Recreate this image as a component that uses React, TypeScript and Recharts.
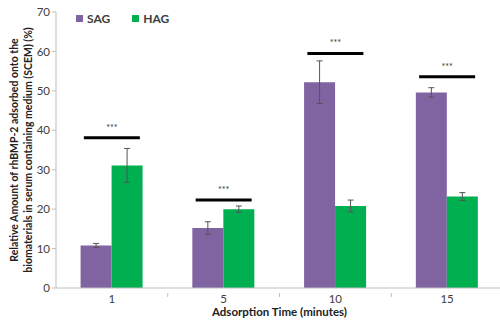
import { ComposedChart, Bar, Line, XAxis, YAxis, ErrorBar } from "recharts";

const times = ["1", "5", "10", "15"];
const sag = [10.8, 15.2, 52.2, 49.6];
const sagErr = [0.5, 1.6, 5.4, 1.2];
const hag = [31.1, 20.0, 20.8, 23.2];
const hagErr = [4.3, 0.8, 1.5, 1.0];
const sigLevel = [38.1, 22.3, 59.5, 53.6];
const yTicks = [0, 10, 20, 30, 40, 50, 60, 70];

const data = times.map((t, i) => ({
  time: t,
  sag: sag[i],
  sagErr: sagErr[i],
  hag: hag[i],
  hagErr: hagErr[i],
  sig: sigLevel[i],
}));

const FONT = "Lato, 'Open Sans', sans-serif";
const CHART_W = 503;
const CHART_H = 323;
const LEFT = 56;
const BAND = (CHART_W - LEFT) / times.length;

// significance bracket with stars
const SigMark = (props: any) => {
  const { cx, cy } = props;
  if (cx == null || cy == null) return null;
  return (
    <g>
      <line x1={cx - 28} x2={cx + 28} y1={cy} y2={cy} stroke="#000" strokeWidth={3} />
      <text x={cx} y={cy - 7} textAnchor="middle" fontSize={9} fill="#333" fontFamily={FONT}>
        ***
      </text>
    </g>
  );
};

const XTick = (props: any) => {
  const { x, y, payload, index } = props;
  return (
    <g>
      <text x={x} y={y + 7} textAnchor="middle" fontSize={11.5} fill="#404040" fontFamily={FONT}>
        {payload.value}
      </text>
      {index < times.length - 1 && (
        <line x1={x + BAND / 2} x2={x + BAND / 2} y1={y - 3} y2={y + 1} stroke="#BFBFBF" />
      )}
    </g>
  );
};

const YLabel = (props: any) => {
  const vb = props.viewBox || {};
  const cy = vb.y + vb.height / 2;
  return (
    <g fontFamily={FONT} fontSize={10.5} fontWeight="bold" fill="#222">
      <text x={14} y={cy} textAnchor="middle" dominantBaseline="central" transform={`rotate(-90, 14, ${cy})`}>
        Relative Amount of rhBMP-2 adsorbed onto the
      </text>
      <text x={28} y={cy} textAnchor="middle" dominantBaseline="central" transform={`rotate(-90, 28, ${cy})`}>
        biomaterials in  serum containing medium (SCEM) (%)
      </text>
    </g>
  );
};

const LegendBox = () => (
  <div
    style={{
      position: "absolute",
      left: 76,
      top: 11,
      display: "flex",
      gap: 22,
      fontFamily: FONT,
      fontSize: 12,
      fontWeight: "bold",
      color: "#404040",
    }}
  >
    <span style={{ display: "flex", alignItems: "center", gap: 4 }}>
      <span style={{ width: 7, height: 7, background: "#8064A2", display: "inline-block" }} />
      SAG
    </span>
    <span style={{ display: "flex", alignItems: "center", gap: 4 }}>
      <span style={{ width: 7, height: 7, background: "#00B050", display: "inline-block" }} />
      HAG
    </span>
  </div>
);

export default function App() {
  return (
    <div style={{ position: "absolute", left: 0, top: 0, width: 500, height: CHART_H, overflow: "hidden", background: "#fff" }}>
      <ComposedChart
        width={CHART_W}
        height={CHART_H}
        data={data}
        margin={{ top: 12, right: 0, left: 0, bottom: 0 }}
        barCategoryGap="22%"
        barGap={0}
      >
        <XAxis
          dataKey="time"
          axisLine={{ stroke: "#BFBFBF" }}
          tickLine={false}
          tick={<XTick />}
          height={35}
          label={{
            value: "Adsorption Time (minutes)",
            position: "insideBottom",
            offset: 7,
            style: { fontFamily: FONT, fontSize: 11.5, fontWeight: "bold", fill: "#222" },
          }}
        />
        <YAxis
          width={LEFT}
          domain={[0, 70]}
          ticks={yTicks}
          axisLine={{ stroke: "#BFBFBF" }}
          tickLine={{ stroke: "#BFBFBF" }}
          tickSize={4}
          tickMargin={2}
          tick={{ fontFamily: FONT, fontSize: 11.5, fill: "#404040" }}
          label={{ content: <YLabel /> }}
        />
        <Bar dataKey="sag" name="SAG" fill="#8064A2" isAnimationActive={false}>
          <ErrorBar dataKey="sagErr" width={3} stroke="#555" strokeWidth={1} />
        </Bar>
        <Bar dataKey="hag" name="HAG" fill="#00B050" isAnimationActive={false}>
          <ErrorBar dataKey="hagErr" width={3} stroke="#555" strokeWidth={1} />
        </Bar>
        <Line
          dataKey="sig"
          stroke="none"
          dot={<SigMark />}
          activeDot={false}
          legendType="none"
          isAnimationActive={false}
        />
      </ComposedChart>
      <LegendBox />
    </div>
  );
}
